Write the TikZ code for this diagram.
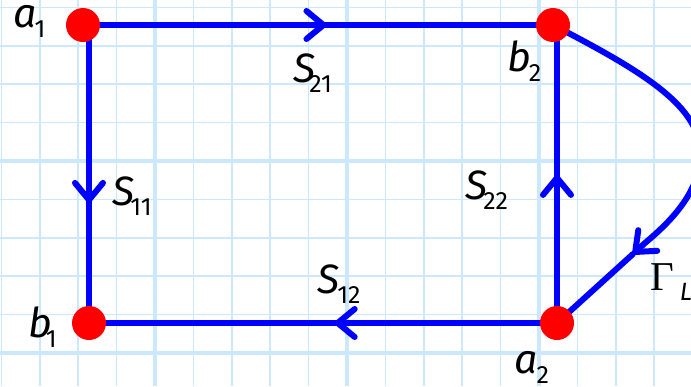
\documentclass[tikz,border=0pt]{standalone}
\usepackage{fontspec}
\usetikzlibrary{arrows.meta,decorations.markings}
\newfontfamily\lfont{Fira Sans}
\newfontfamily\gfont{Liberation Serif}
\definecolor{gridc}{RGB}{204,232,252}
\newcommand\lsub[1]{\raisebox{-10pt}{\fontsize{25}{25}\selectfont\upshape #1}}
\pgfdeclarelayer{gridlayer}
\pgfdeclarelayer{linelayer}
\pgfsetlayers{gridlayer,linelayer,main}
\tikzset{
  gridminor/.style={draw=gridc, line width=1.6pt},
  gridmajor/.style={draw=gridc, line width=3.6pt},
  dot/.style={circle, fill=red, minimum size=34pt, inner sep=0pt},
  conn/.style={draw=blue, line width=6pt, line cap=round},
  tipA/.tip={Straight Barb[length=17pt,width=28pt,round]},
  midarrow/.style={postaction={decorate}, decoration={markings, mark=at position #1 with {\arrow{tipA}}}},
  lbl/.style={inner sep=0pt, anchor=base west, font=\lfont\itshape\fontsize{41}{41}\selectfont},
}
\begin{document}
\begin{tikzpicture}[x=1pt,y=-1pt]
\useasboundingbox (0,0) rectangle (691,386);
\clip (0,0) rectangle (691,386);
\begin{pgfonlayer}{gridlayer}
\fill[white] (0,0) rectangle (691,386);
\foreach \k in {0,...,17} \draw[gridminor] ({1.4+38.4*\k},0) -- ({1.4+38.4*\k},386);
\foreach \k in {0,...,9} \draw[gridminor] (0,{7.4+38.4*\k}) -- (691,{7.4+38.4*\k});
\foreach \x in {155,347,539} \draw[gridmajor] (\x,0) -- (\x,386);
\foreach \y in {161,353} \draw[gridmajor] (0,\y) -- (691,\y);
\end{pgfonlayer}

\node[dot] (a1) at (83,25) {};
\node[dot] (b2) at (553,25) {};
\node[dot] (b1) at (89,323) {};
\node[dot] (a2) at (557,323) {};
\coordinate (gmid) at (633,254);

\begin{pgfonlayer}{linelayer}
\draw[conn, midarrow=0.518] (a1.center) -- (b2.center);
\draw[conn, midarrow=0.597] (b1.center |- a1.center) -- (b1.center);
\draw[conn, midarrow=0.475] (a2.center) -- (b1.center);
\draw[conn, midarrow=0.497] (a2.center) -- (a2.center |- b2.center);
\draw[conn, -{tipA}] (b2.center) .. controls (650,75) and (705,110) .. (700,160)
   .. controls (697,195) and (670,222) .. (645,243) -- (gmid);
\draw[conn] (gmid) -- (a2.center);
\end{pgfonlayer}

\node[lbl] (la1) at (13,27) {a\kern-2pt\lsub{1}};
\node[lbl] (lb2) at (507,71) {b\kern-2pt\lsub{2}};
\node[lbl] (lb1) at (28,337) {b\kern-6pt\lsub{1}};
\node[lbl] (la2) at (514,373) {a\kern-1pt\lsub{2}};
\node[lbl] (ls21) at (293,82) {S\kern-6pt\lsub{21}};
\node[lbl] (ls12) at (317,293) {S\kern-2pt\lsub{12}};
\node[lbl] (ls11) at (112,205) {S\kern-4pt\lsub{11}};
\node[lbl] (ls22) at (465,199) {S\kern-4pt\lsub{22}};
\node[lbl] (lg) at (650,290) {{\gfont\upshape\fontsize{41}{41}\selectfont Γ}\kern6pt\lsub{\itshape L}};
\end{tikzpicture}
\end{document}
